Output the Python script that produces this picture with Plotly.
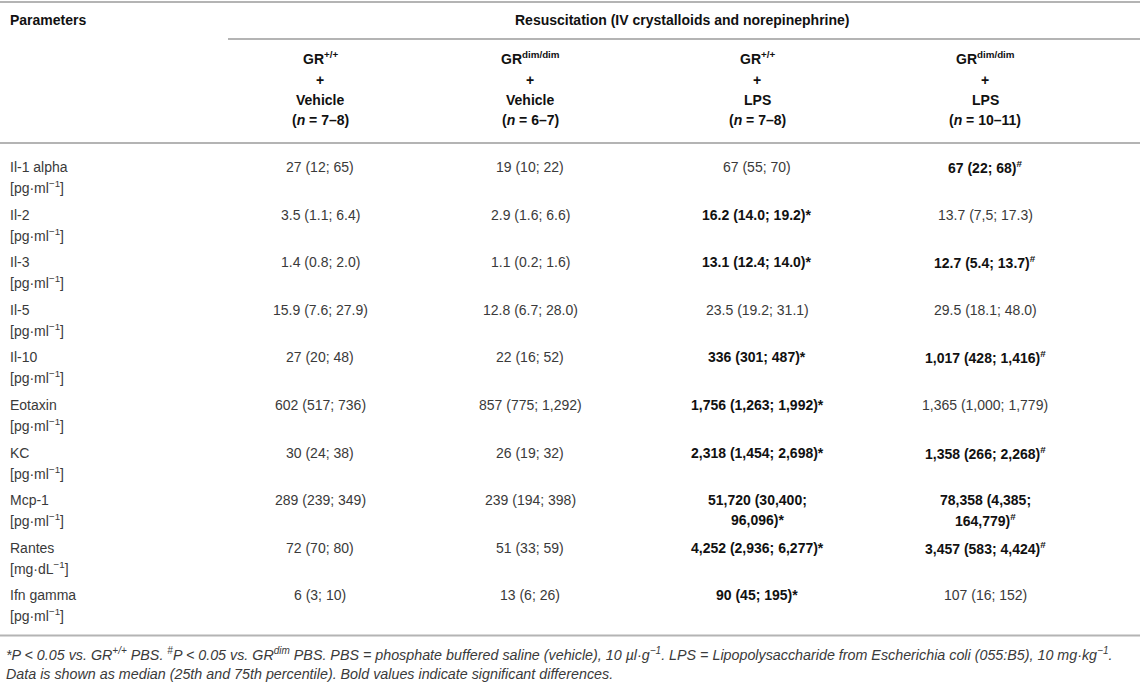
import plotly.graph_objects as go

# ---------------- data ----------------
parameters = ["Il-1 alpha", "Il-2", "Il-3", "Il-5", "Il-10", "Eotaxin", "KC", "Mcp-1", "Rantes", "Ifn gamma"]
units = ["[pg·ml<sup>−1</sup>]"] * 8 + ["[mg·dL<sup>−1</sup>]", "[pg·ml<sup>−1</sup>]"]

group_genotype = ["GR<sup>+/+</sup>", "GR<sup>dim/dim</sup>", "GR<sup>+/+</sup>", "GR<sup>dim/dim</sup>"]
group_treatment = ["Vehicle", "Vehicle", "LPS", "LPS"]
group_n = ["7–8", "6–7", "7–8", "10–11"]

gr_wt_vehicle = ["27 (12; 65)", "3.5 (1.1; 6.4)", "1.4 (0.8; 2.0)", "15.9 (7.6; 27.9)", "27 (20; 48)",
                 "602 (517; 736)", "30 (24; 38)", "289 (239; 349)", "72 (70; 80)", "6 (3; 10)"]
gr_dim_vehicle = ["19 (10; 22)", "2.9 (1.6; 6.6)", "1.1 (0.2; 1.6)", "12.8 (6.7; 28.0)", "22 (16; 52)",
                  "857 (775; 1,292)", "26 (19; 32)", "239 (194; 398)", "51 (33; 59)", "13 (6; 26)"]
gr_wt_lps = ["67 (55; 70)", "16.2 (14.0; 19.2)*", "13.1 (12.4; 14.0)*", "23.5 (19.2; 31.1)", "336 (301; 487)*",
             "1,756 (1,263; 1,992)*", "2,318 (1,454; 2,698)*", "51,720 (30,400;|96,096)*",
             "4,252 (2,936; 6,277)*", "90 (45; 195)*"]
gr_dim_lps = ["67 (22; 68)#", "13.7 (7,5; 17.3)", "12.7 (5.4; 13.7)#", "29.5 (18.1; 48.0)", "1,017 (428; 1,416)#",
              "1,365 (1,000; 1,779)", "1,358 (266; 2,268)#", "78,358 (4,385;|164,779)#",
              "3,457 (583; 4,424)#", "107 (16; 152)"]

bold_wt_vehicle = [False] * 10
bold_dim_vehicle = [False] * 10
bold_wt_lps = [False, True, True, False, True, True, True, True, True, True]
bold_dim_lps = [True, False, True, False, True, False, True, True, True, False]

columns = [gr_wt_vehicle, gr_dim_vehicle, gr_wt_lps, gr_dim_lps]
bolds = [bold_wt_vehicle, bold_dim_vehicle, bold_wt_lps, bold_dim_lps]

title_span = "Resuscitation (IV crystalloids and norepinephrine)"
footnote_1 = ("<i>*P &lt; 0.05 vs. GR<sup>+/+</sup> PBS. <sup>#</sup>P &lt; 0.05 vs. GR<sup>dim</sup> PBS. "
              "PBS = phosphate buffered saline (vehicle), 10 µl·g<sup>−1</sup>. "
              "LPS = Lipopolysaccharide from Escherichia coli (055:B5), 10 mg·kg<sup>−1</sup>.</i>")
footnote_2 = "<i>Data is shown as median (25th and 75th percentile). Bold values indicate significant differences.</i>"

# ---------------- layout constants ----------------
W, H = 1140, 687
FONT = "Liberation Sans, Arial, sans-serif"
TXT = "#3a3a3a"
BOLDC = "#111111"
LINE = "#b4b4b4"
FS = 14
FS_NOTE = 14.3

col_x = [320, 530, 757, 985]
param_x = 8
row_y0 = 167
row_pitch = 47.6
line_gap = 20

fig = go.Figure()
fig.add_trace(go.Scatter(x=[0, W], y=[0, H], mode="markers", marker=dict(opacity=0), hoverinfo="skip",
                         showlegend=False))

ann = []


def add_text(x, y, text, anchor="center", size=FS, color=TXT):
    ann.append(dict(x=x, y=y, xref="x", yref="y", text=text, showarrow=False, xanchor=anchor,
                    yanchor="middle", font=dict(family=FONT, size=size, color=color)))


def fmt(val, bold):
    parts = val.split("|")
    out = []
    for p in parts:
        p = p.replace("#", "<sup>#</sup>")
        out.append(f"<b>{p}</b>" if bold else p)
    return out


# header
add_text(param_x, 20, "<b>Parameters</b>", anchor="left", color=BOLDC)
add_text(682, 20, f"<b>{title_span}</b>", color=BOLDC)
for i, cx in enumerate(col_x):
    add_text(cx, 58, f"<b>{group_genotype[i]}</b>", color=BOLDC)
    add_text(cx, 80, "<b>+</b>", color=BOLDC)
    add_text(cx, 100, f"<b>{group_treatment[i]}</b>", color=BOLDC)
    add_text(cx, 120, f"<b>(<i>n</i> = {group_n[i]})</b>", color=BOLDC)

# body
for r in range(len(parameters)):
    y = row_y0 + r * row_pitch
    add_text(param_x, y, parameters[r], anchor="left")
    add_text(param_x, y + line_gap, units[r], anchor="left")
    for c in range(4):
        lines = fmt(columns[c][r], bolds[c][r])
        for k, t in enumerate(lines):
            add_text(col_x[c], y + k * line_gap, t, color=BOLDC if bolds[c][r] else TXT)

bottom_y = row_y0 + (len(parameters) - 1) * row_pitch + line_gap + 20

add_text(param_x - 4, bottom_y + 19, footnote_1, anchor="left", size=FS_NOTE)
add_text(param_x - 4, bottom_y + 39, footnote_2, anchor="left", size=FS_NOTE)

shapes = []
for (x0, x1, y) in [(0, W, 2), (228, W, 39), (0, W, 143), (0, W, bottom_y)]:
    shapes.append(dict(type="line", xref="x", yref="y", x0=x0, x1=x1, y0=y, y1=y,
                       line=dict(color=LINE, width=2)))

fig.update_layout(
    width=W, height=H, margin=dict(l=0, r=0, t=0, b=0),
    paper_bgcolor="white", plot_bgcolor="white",
    xaxis=dict(range=[0, W], visible=False, fixedrange=True),
    yaxis=dict(range=[H, 0], visible=False, fixedrange=True),
    annotations=ann, shapes=shapes, showlegend=False,
)

fig.write_html("out.html", config={"displayModeBar": False},
               post_script="document.body.style.margin='0';document.body.style.overflow='hidden';")
